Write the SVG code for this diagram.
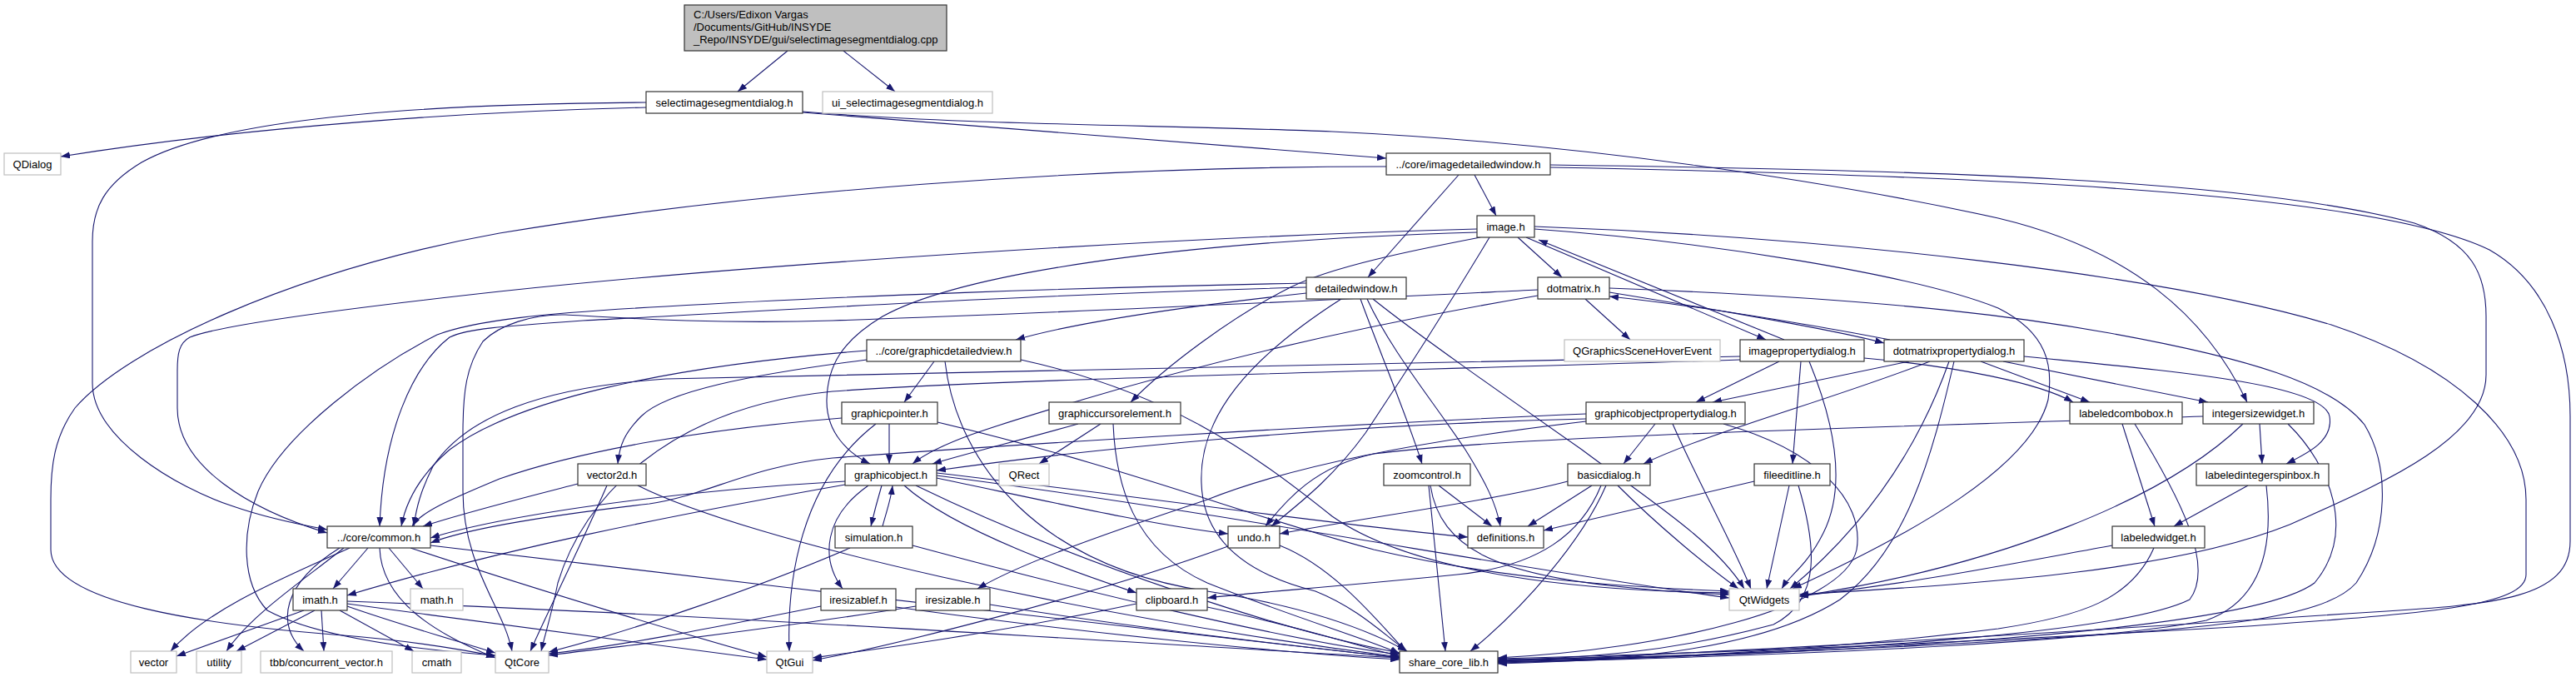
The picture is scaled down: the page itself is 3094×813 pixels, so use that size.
<svg xmlns="http://www.w3.org/2000/svg" width="3094" height="813" viewBox="0 0 3094 813">
<style>
.n rect{fill:#fff;stroke:#333;stroke-width:1.2}
.x rect{fill:#fff;stroke:#bfbfbf;stroke-width:1.2}
.m rect{fill:#bfbfbf;stroke:#333;stroke-width:1.2}
text{font-family:"Liberation Sans",Arial,sans-serif;font-size:13px;fill:#000}
.c{text-anchor:middle}
#edges path{fill:none;stroke:#191970;stroke-width:1.1;marker-end:url(#ah)}
</style>
<defs>
<marker id="ah" markerWidth="11" markerHeight="8" refX="11" refY="4" orient="auto" markerUnits="userSpaceOnUse"><path d="M0,0 L11,4 L0,8 z" fill="#191970"/></marker>
</defs>
<rect width="3094" height="813" fill="#fff"/>
<g id="edges">
<path d="M946,61 L886,110"/>
<path d="M1013,61 L1075,110"/>
<path d="M776,129 C560,134 300,152 73,188"/>
<path d="M776,123 C450,125 250,150 170,195 C125,222 111,250 111,290 L111,460 C111,525 210,585 280,608 C320,622 360,630 393,636"/>
<path d="M964,135 L1665,190"/>
<path d="M964,134 C1150,150 1400,150 1600,158 C1900,172 2200,218 2400,262 C2560,300 2650,380 2699,483"/>
<path d="M1771,210 L1797,259"/>
<path d="M1752,210 L1643,333"/>
<path d="M1665,200 C1300,200 900,230 600,280 C350,325 150,420 90,490 C65,525 61,560 61,600 L61,660 C61,725 250,750 400,762 C480,768 540,777 595,788"/>
<path d="M1862,198 C2300,204 2700,214 2900,268 C2970,292 2986,330 2986,380 L2986,450 C2986,530 2850,585 2750,630 C2600,690 2350,702 2161,714"/>
<path d="M1862,201 C2400,211 2850,232 2990,300 C3060,340 3087,420 3087,500 L3087,650 C3087,718 3000,726 2850,735 C2500,758 2100,783 1799,794"/>
<path d="M1823,285 L1876,333"/>
<path d="M1833,285 L2121,408"/>
<path d="M2143,408 L1848,288"/>
<path d="M1774,275 C1400,285 900,318 600,350 C400,372 260,392 228,405 C215,412 213,425 213,445 L213,490 C213,560 300,612 393,640"/>
<path d="M1774,279 C1400,290 1150,330 1060,380 C1010,410 994,440 993,480 C992,520 1020,545 1045,557"/>
<path d="M1778,285 C1700,300 1600,320 1550,345 C1480,380 1400,440 1358,483"/>
<path d="M1789,285 C1750,350 1700,430 1640,520 C1600,575 1560,605 1527,632"/>
<path d="M1843,275 C2050,290 2300,330 2400,370 C2460,400 2466,440 2460,480 C2440,560 2300,640 2153,707"/>
<path d="M1843,272 C2200,285 2600,330 2800,390 C2950,440 3034,520 3034,600 L3034,690 C3034,730 2900,737 2700,752 C2300,775 2000,786 1799,791"/>
<path d="M1569,352 C1450,365 1300,385 1220,408"/>
<path d="M1634,359 C1660,430 1690,500 1708,557"/>
<path d="M1642,359 C1670,420 1720,480 1760,540 C1785,580 1797,605 1802,632"/>
<path d="M1649,359 C1700,400 1800,470 1900,540 C1980,600 2060,650 2095,707"/>
<path d="M1569,345 C1200,355 900,375 700,385 C600,392 560,395 540,405 C495,440 460,520 456,632"/>
<path d="M1569,340 C1300,345 1000,356 800,368 C650,376 570,385 525,402 C450,440 340,520 310,590 C290,640 290,700 321,733 C380,765 500,780 595,787"/>
<path d="M1847,348 C1600,360 1300,375 1000,385 C850,390 720,380 679,378 C640,377 600,390 580,410 C560,440 556,470 556,520 L556,590 C556,680 605,730 615,782"/>
<path d="M1847,355 C1700,380 1500,420 1300,480 C1200,510 1130,530 1096,557"/>
<path d="M1904,359 L1958,408"/>
<path d="M1933,351 C2050,370 2200,395 2263,412"/>
<path d="M2270,408 C2150,385 2020,365 1933,356"/>
<path d="M1933,346 C2300,360 2450,385 2534,400 C2700,430 2800,460 2840,510 C2870,560 2870,640 2830,700 C2790,745 2650,755 2400,770 C2150,785 1950,790 1799,792"/>
<path d="M2293,434 L2057,483"/>
<path d="M2318,434 C2200,480 2050,520 1974,557"/>
<path d="M2341,434 C2300,550 2230,640 2150,707"/>
<path d="M2347,434 C2320,550 2290,660 2210,720 C2100,790 1900,795 1799,795"/>
<path d="M2379,434 L2510,483"/>
<path d="M2406,434 L2652,483"/>
<path d="M2431,428 C2600,445 2790,460 2798,500 C2803,530 2770,545 2746,557"/>
<path d="M2137,434 L2037,483"/>
<path d="M2163,434 L2153,557"/>
<path d="M2173,434 C2200,500 2220,580 2190,640 C2170,680 2150,690 2140,707"/>
<path d="M2239,430 C2350,440 2450,460 2490,483"/>
<path d="M2090,428 C1700,438 1100,445 800,455 C650,465 560,500 520,560 C505,590 500,610 497,632"/>
<path d="M2090,432 C1700,445 1200,455 1000,470 C800,490 700,600 670,700 C662,740 655,760 650,782"/>
<path d="M1905,503 C1600,510 1300,540 1125,565"/>
<path d="M1905,497 C1600,510 1200,535 1000,550 C900,560 850,595 780,605 C650,620 560,635 517,652"/>
<path d="M1988,509 L1950,557"/>
<path d="M2009,509 C2040,580 2080,650 2103,707"/>
<path d="M2070,509 C2180,540 2240,600 2230,660 C2215,730 2000,780 1799,790"/>
<path d="M1912,583 L1835,632"/>
<path d="M1943,583 C1990,630 2050,680 2088,707"/>
<path d="M1929,583 C1900,650 1830,730 1766,782"/>
<path d="M1923,583 C1900,640 1850,680 1750,690 C1600,705 1500,712 1450,718"/>
<path d="M1883,578 C1800,600 1650,620 1537,641"/>
<path d="M2107,578 L1854,637"/>
<path d="M2149,583 L2122,707"/>
<path d="M2160,583 C2180,650 2190,720 2130,750 C2000,785 1900,790 1799,793"/>
<path d="M1728,583 L1792,632"/>
<path d="M1716,583 L1736,782"/>
<path d="M1718,583 C1730,660 1800,690 1950,705 C2010,711 2050,713 2077,714"/>
<path d="M1475,656 C1300,720 1050,780 976,793"/>
<path d="M1537,655 C1600,680 1650,740 1688,782"/>
<path d="M1365,725 C1200,760 1050,780 976,790"/>
<path d="M1450,729 C1550,750 1630,775 1681,788"/>
<path d="M1100,728 C900,760 750,775 659,787"/>
<path d="M1189,726 C1400,760 1600,780 1681,790"/>
<path d="M1905,506 C1700,530 1550,560 1450,600 C1300,650 1220,680 1174,707"/>
<path d="M986,728 C850,755 750,775 659,785"/>
<path d="M1076,729 C1300,760 1550,785 1681,792"/>
<path d="M1060,632 C1066,610 1070,600 1072,583"/>
<path d="M1059,583 C1054,600 1050,615 1046,632"/>
<path d="M1021,658 C900,710 750,760 659,783"/>
<path d="M1096,655 C1300,710 1550,770 1681,786"/>
<path d="M1015,578 C800,590 600,620 517,646"/>
<path d="M1015,582 C800,620 600,660 417,715"/>
<path d="M1043,583 C990,620 985,670 1012,707"/>
<path d="M1086,583 C1150,640 1300,690 1365,712"/>
<path d="M1125,574 C1250,600 1380,630 1475,641"/>
<path d="M1125,568 C1400,600 1600,630 1763,645"/>
<path d="M1125,571 C1500,620 1800,680 2077,718"/>
<path d="M1100,583 C1300,680 1550,760 1681,784"/>
<path d="M1068,509 L1068,557"/>
<path d="M1011,502 C850,515 700,540 600,575 C540,600 505,615 495,632"/>
<path d="M1052,509 C960,580 945,700 948,782"/>
<path d="M1126,507 C1350,560 1500,620 1650,660 C1800,695 1950,705 2077,710"/>
<path d="M1295,509 C1220,530 1160,545 1120,557"/>
<path d="M1322,509 L1248,557"/>
<path d="M1337,509 C1340,580 1360,660 1450,700 C1550,740 1650,770 1681,785"/>
<path d="M694,581 C620,600 560,615 508,632"/>
<path d="M729,583 C700,650 660,730 637,782"/>
<path d="M766,583 C900,650 1300,740 1681,789"/>
<path d="M420,658 C350,690 250,730 205,782"/>
<path d="M413,658 C360,700 300,740 272,782"/>
<path d="M408,658 C340,700 330,750 365,782"/>
<path d="M442,658 L400,707"/>
<path d="M467,658 L508,707"/>
<path d="M456,658 C458,720 520,760 595,790"/>
<path d="M493,658 C650,710 850,770 921,789"/>
<path d="M517,655 C900,700 1400,760 1681,790"/>
<path d="M365,733 L212,788"/>
<path d="M378,733 L284,782"/>
<path d="M386,733 L389,782"/>
<path d="M408,733 L497,782"/>
<path d="M417,728 C480,750 550,770 595,784"/>
<path d="M417,722 C900,740 1400,775 1681,790"/>
<path d="M417,725 C600,750 800,775 921,792"/>
<path d="M2549,509 L2588,632"/>
<path d="M2564,509 C2620,600 2660,680 2630,720 C2550,760 2200,785 1799,794"/>
<path d="M2714,509 L2717,557"/>
<path d="M2694,509 C2600,600 2400,680 2161,716"/>
<path d="M2748,509 C2800,560 2830,640 2780,700 C2700,760 2200,785 1799,795"/>
<path d="M2646,500 C2200,515 1800,525 1650,545 C1580,560 1545,600 1520,632"/>
<path d="M2700,583 L2611,632"/>
<path d="M2722,583 C2730,650 2720,720 2650,745 C2500,775 2100,788 1799,796"/>
<path d="M2537,655 C2400,680 2300,700 2161,716"/>
<path d="M2587,658 C2560,720 2500,740 2400,755 C2200,780 2000,790 1799,797"/>
<path d="M1611,359 C1500,430 1440,500 1443,580 C1445,650 1500,690 1580,710 C1630,730 1660,760 1690,782"/>
<path d="M1135,434 C1150,560 1250,680 1450,710 C1580,730 1650,760 1690,782"/>
<path d="M1226,432 C1400,470 1500,540 1600,620 C1700,690 1900,710 2077,712"/>
<path d="M1122,434 L1086,483"/>
<path d="M1041,432 C900,450 800,470 770,500 C750,520 744,535 742,557"/>
<path d="M1041,421 C800,440 620,480 540,540 C505,570 488,600 482,632"/>
</g>
<g id="nodes">
<g id="node-main" class="m"><rect x="822" y="6" width="315" height="55"/><text x="833" y="22">C:/Users/Edixon Vargas</text><text x="833" y="37">/Documents/GitHub/INSYDE</text><text x="833" y="52">_Repo/INSYDE/gui/selectimagesegmentdialog.cpp</text></g>
<g id="node-selectimagesegmentdialog" class="n"><rect x="776" y="110" width="188" height="26"/><text class="c" x="870" y="127.5">selectimagesegmentdialog.h</text></g>
<g id="node-ui" class="x"><rect x="988" y="110" width="204" height="26"/><text class="c" x="1090" y="127.5">ui_selectimagesegmentdialog.h</text></g>
<g id="node-qdialog" class="x"><rect x="5" y="184" width="68" height="26"/><text class="c" x="39" y="201.5">QDialog</text></g>
<g id="node-imagedetailedwindow" class="n"><rect x="1665" y="184" width="197" height="26"/><text class="c" x="1763.5" y="201.5">../core/imagedetailedwindow.h</text></g>
<g id="node-image" class="n"><rect x="1774" y="259" width="69" height="26"/><text class="c" x="1808.5" y="276.5">image.h</text></g>
<g id="node-detailedwindow" class="n"><rect x="1569" y="333" width="120" height="26"/><text class="c" x="1629" y="350.5">detailedwindow.h</text></g>
<g id="node-dotmatrix" class="n"><rect x="1847" y="333" width="86" height="26"/><text class="c" x="1890" y="350.5">dotmatrix.h</text></g>
<g id="node-qgshe" class="x"><rect x="1879" y="408" width="187" height="26"/><text class="c" x="1972.5" y="425.5">QGraphicsSceneHoverEvent</text></g>
<g id="node-imagepropertydialog" class="n"><rect x="2090" y="408" width="149" height="26"/><text class="c" x="2164.5" y="425.5">imagepropertydialog.h</text></g>
<g id="node-dotmatrixpropertydialog" class="n"><rect x="2263" y="408" width="168" height="26"/><text class="c" x="2347" y="425.5">dotmatrixpropertydialog.h</text></g>
<g id="node-graphicdetailedview" class="n"><rect x="1041" y="408" width="185" height="26"/><text class="c" x="1133.5" y="425.5">../core/graphicdetailedview.h</text></g>
<g id="node-graphicpointer" class="n"><rect x="1011" y="483" width="115" height="26"/><text class="c" x="1068.5" y="500.5">graphicpointer.h</text></g>
<g id="node-graphiccursorelement" class="n"><rect x="1260" y="483" width="158" height="26"/><text class="c" x="1339" y="500.5">graphiccursorelement.h</text></g>
<g id="node-graphicobjectpropertydialog" class="n"><rect x="1905" y="483" width="191" height="26"/><text class="c" x="2000.5" y="500.5">graphicobjectpropertydialog.h</text></g>
<g id="node-labeledcombobox" class="n"><rect x="2486" y="483" width="135" height="26"/><text class="c" x="2553.5" y="500.5">labeledcombobox.h</text></g>
<g id="node-integersizewidget" class="n"><rect x="2646" y="483" width="133" height="26"/><text class="c" x="2712.5" y="500.5">integersizewidget.h</text></g>
<g id="node-vector2d" class="n"><rect x="694" y="557" width="82" height="26"/><text class="c" x="735" y="574.5">vector2d.h</text></g>
<g id="node-graphicobject" class="n"><rect x="1015" y="557" width="110" height="26"/><text class="c" x="1070" y="574.5">graphicobject.h</text></g>
<g id="node-qrect" class="x"><rect x="1200" y="557" width="60" height="26"/><text class="c" x="1230" y="574.5">QRect</text></g>
<g id="node-zoomcontrol" class="n"><rect x="1662" y="557" width="104" height="26"/><text class="c" x="1714" y="574.5">zoomcontrol.h</text></g>
<g id="node-basicdialog" class="n"><rect x="1883" y="557" width="99" height="26"/><text class="c" x="1932.5" y="574.5">basicdialog.h</text></g>
<g id="node-fileeditline" class="n"><rect x="2107" y="557" width="91" height="26"/><text class="c" x="2152.5" y="574.5">fileeditline.h</text></g>
<g id="node-labeledintegerspinbox" class="n"><rect x="2638" y="557" width="159" height="26"/><text class="c" x="2717.5" y="574.5">labeledintegerspinbox.h</text></g>
<g id="node-common" class="n"><rect x="393" y="632" width="124" height="26"/><text class="c" x="455" y="649.5">../core/common.h</text></g>
<g id="node-simulation" class="n"><rect x="1003" y="632" width="93" height="26"/><text class="c" x="1049.5" y="649.5">simulation.h</text></g>
<g id="node-undo" class="n"><rect x="1475" y="632" width="62" height="26"/><text class="c" x="1506" y="649.5">undo.h</text></g>
<g id="node-definitions" class="n"><rect x="1763" y="632" width="91" height="26"/><text class="c" x="1808.5" y="649.5">definitions.h</text></g>
<g id="node-labeledwidget" class="n"><rect x="2537" y="632" width="111" height="26"/><text class="c" x="2592.5" y="649.5">labeledwidget.h</text></g>
<g id="node-imath" class="n"><rect x="352" y="707" width="65" height="26"/><text class="c" x="384.5" y="724.5">imath.h</text></g>
<g id="node-math" class="x"><rect x="493" y="707" width="63" height="26"/><text class="c" x="524.5" y="724.5">math.h</text></g>
<g id="node-iresizablef" class="n"><rect x="986" y="707" width="90" height="26"/><text class="c" x="1031" y="724.5">iresizablef.h</text></g>
<g id="node-iresizable" class="n"><rect x="1100" y="707" width="89" height="26"/><text class="c" x="1144.5" y="724.5">iresizable.h</text></g>
<g id="node-clipboard" class="n"><rect x="1365" y="707" width="85" height="26"/><text class="c" x="1407.5" y="724.5">clipboard.h</text></g>
<g id="node-qtwidgets" class="x"><rect x="2077" y="707" width="84" height="26"/><text class="c" x="2119" y="724.5">QtWidgets</text></g>
<g id="node-vector" class="x"><rect x="157" y="782" width="55" height="26"/><text class="c" x="184.5" y="799.5">vector</text></g>
<g id="node-utility" class="x"><rect x="236" y="782" width="54" height="26"/><text class="c" x="263" y="799.5">utility</text></g>
<g id="node-tbb" class="x"><rect x="313" y="782" width="158" height="26"/><text class="c" x="392" y="799.5">tbb/concurrent_vector.h</text></g>
<g id="node-cmath" class="x"><rect x="495" y="782" width="59" height="26"/><text class="c" x="524.5" y="799.5">cmath</text></g>
<g id="node-qtcore" class="x"><rect x="595" y="782" width="64" height="26"/><text class="c" x="627" y="799.5">QtCore</text></g>
<g id="node-qtgui" class="x"><rect x="921" y="782" width="55" height="26"/><text class="c" x="948.5" y="799.5">QtGui</text></g>
<g id="node-share" class="n"><rect x="1681" y="782" width="118" height="26"/><text class="c" x="1740" y="799.5">share_core_lib.h</text></g>
</g>
</svg>
